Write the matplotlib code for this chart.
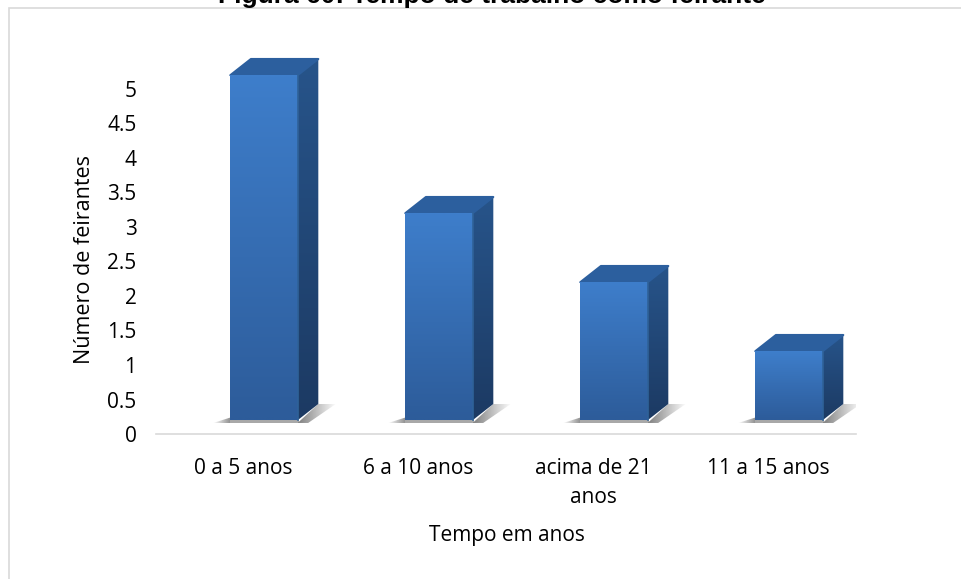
"""Tempo de trabalho como feirante: 3D-look column chart."""

import matplotlib
matplotlib.use("Agg")
import matplotlib.pyplot as plt
import numpy as np
from matplotlib.patches import Polygon, Rectangle

OUT_W, OUT_H = 961, 579

categories = ["0 a 5 anos", "6 a 10 anos", "acima de 21\nanos", "11 a 15 anos"]
values = [5, 3, 2, 1]
y_ticks = [0, 0.5, 1, 1.5, 2, 2.5, 3, 3.5, 4, 4.5, 5]
y_labels = ["0", "0.5", "1", "1.5", "2", "2.5", "3", "3.5", "4", "4.5", "5"]

TITLE = "Figura 60: Tempo de trabalho como feirante"
X_LABEL = "Tempo em anos"
Y_LABEL = "Número de feirantes"

# Extrusion look, in data units (175 px per category, 69 px per unit)
BAR_W = 0.385
BAR_SHIFT = 0.117
FLOOR = 0.20
DX = 0.118
DY = 0.235
SHADOW_W = 0.10
SHADOW_H = 0.04


def fill_gradient(ax, patch, start_color, end_color, extent, horizontal=False):
    """Fill a polygon with a linear gradient, clipped to its outline."""
    ax.add_patch(patch)
    start = np.array(matplotlib.colors.to_rgb(start_color))
    end = np.array(matplotlib.colors.to_rgb(end_color))
    t = np.linspace(0, 1, 64)[:, None]
    ramp = start * (1 - t) + end * t
    rows = ramp[None, :, :] if horizontal else ramp[:, None, :]
    im = ax.imshow(rows, extent=extent, origin="upper", aspect="auto",
                   interpolation="bilinear", zorder=patch.get_zorder())
    im.set_clip_path(patch)


def draw_shadow(ax, x0, x1):
    """Soft grey floor shadow on both sides of a column."""
    left = x0 - SHADOW_W
    wedge = Polygon([(left, FLOOR - SHADOW_H), (x0 + 0.01, FLOOR - SHADOW_H),
                     (x0 + 0.01, FLOOR + SHADOW_H)],
                    closed=True, fc="none", ec="none", zorder=2)
    fill_gradient(ax, wedge, "#ffffff", "#808080",
                  (left, x0 + 0.01, FLOOR - SHADOW_H, FLOOR + SHADOW_H), horizontal=True)

    # Thin strip under the front face
    ax.add_patch(Rectangle((x0, FLOOR - SHADOW_H), x1 - x0 + 0.01, SHADOW_H,
                           fc="#a8a8a8", ec="none", zorder=2))

    right = x1 + DX + SHADOW_W
    back = Polygon([(x1, FLOOR - SHADOW_H), (x1 + DX, FLOOR + DY),
                    (right, FLOOR + DY), (x1 + 0.06, FLOOR - SHADOW_H)],
                   closed=True, fc="none", ec="none", zorder=2)
    fill_gradient(ax, back, "#808080", "#ffffff",
                  (x1, right, FLOOR - SHADOW_H, FLOOR + DY), horizontal=True)


def draw_column(ax, xc, value):
    x0, x1 = xc - BAR_W / 2, xc + BAR_W / 2
    top = FLOOR + value
    draw_shadow(ax, x0, x1)

    side = Polygon([(x1, FLOOR), (x1 + DX, FLOOR + DY), (x1 + DX, top + DY), (x1, top)],
                   closed=True, fc="none", ec="none", zorder=3)
    fill_gradient(ax, side, "#27548a", "#1c3a63", (x1, x1 + DX, FLOOR, top + DY))

    lid = Polygon([(x0, top), (x0 + DX, top + DY), (x1 + DX, top + DY), (x1, top)],
                  closed=True, fc="#2c5f9e", ec="#2c5f9e", lw=1.5, joinstyle="round", zorder=4)
    ax.add_patch(lid)

    front = Rectangle((x0, FLOOR), BAR_W, value, fc="none", ec="none", zorder=5)
    fill_gradient(ax, front, "#3e7ecb", "#2d5c9a", (x0, x1, FLOOR, top))
    ax.plot([x1, x1], [FLOOR, top], color="#2f6299", lw=1.2, zorder=6)


def main():
    plt.rcParams["font.family"] = ["Open Sans", "DejaVu Sans"]
    fig = plt.figure(figsize=(OUT_W / 100, OUT_H / 100), dpi=100)

    # Frame of the embedded chart
    fig.add_artist(Rectangle((8.5 / OUT_W, -0.01), 1.0, 1 - 7.5 / OUT_H + 0.01,
                             transform=fig.transFigure, fc="none", ec="#d9d9d9", lw=1.2))

    # Axes pixels: x 156-856, y=0 at 434, y=5 at 89
    ax = fig.add_axes([156 / OUT_W, (OUT_H - 434) / OUT_H, 700 / OUT_W, 380 / OUT_H])
    positions = np.arange(len(categories))
    for xc, value in zip(positions, values):
        draw_column(ax, xc + BAR_SHIFT, value)

    ax.set_xlim(-0.5, len(categories) - 0.5)
    ax.set_ylim(0, 380 / 69)
    ax.set_yticks(y_ticks, y_labels)
    ax.set_xticks(positions, categories)
    ax.tick_params(length=0, labelsize=15, colors="black")
    ax.tick_params(axis="y", pad=14)
    ax.tick_params(axis="x", pad=17)
    for label in ax.get_xticklabels():
        label.set_linespacing(1.55)
    for name in ["top", "right", "left"]:
        ax.spines[name].set_visible(False)
    ax.spines["bottom"].set_color("#d9d9d9")
    ax.spines["bottom"].set_linewidth(1.2)

    fig.text(507 / OUT_W, 1 - 536 / OUT_H, X_LABEL, ha="center", va="center", fontsize=15)
    fig.text(85 / OUT_W, 1 - 260 / OUT_H, Y_LABEL, ha="center", va="center",
             rotation=90, fontsize=15.5)
    fig.text(492 / OUT_W, 1 - 3 / OUT_H, TITLE, ha="center", va="baseline",
             fontsize=19, fontweight="bold", family=["Liberation Sans", "DejaVu Sans"])

    fig.savefig("out.png", dpi=100)


if __name__ == "__main__":
    main()
